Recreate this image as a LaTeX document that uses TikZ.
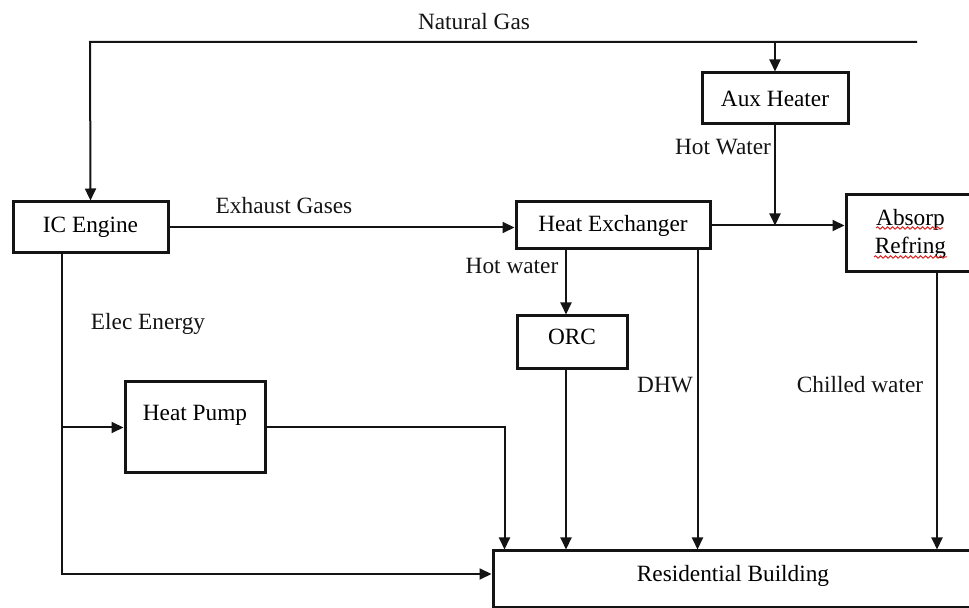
\documentclass[tikz,border=0pt]{standalone}
\usepackage{fontspec}
\setmainfont{Liberation Serif}
\usepackage{xcolor}
\usepackage{tikz}
\usetikzlibrary{arrows.meta,decorations.pathmorphing}
\definecolor{primary}{RGB}{20, 20, 20}
\definecolor{squiggle}{RGB}{215, 40, 40}

\begin{document}
\begin{tikzpicture}[x=0.5pt,y=-0.5pt,
  font=\fontsize{11.65}{14}\selectfont,
  unit/.style={draw=primary,line width=1.5pt,inner sep=0pt,align=center},
  flow/.style={primary,line width=1pt,-{Triangle[length=6pt,width=5.5pt]}},
  lbl/.style={inner sep=0pt,text=primary}]
\useasboundingbox (0,0) rectangle (969,608);
\clip (0,0) rectangle (969,608);
\node[unit,minimum width=77.5pt,minimum height=25.5pt] (ice) at (90.5,227.5) {IC Engine};
\node[unit,minimum width=73pt,minimum height=25.5pt] (aux) at (775,98.5) {Aux Heater};
\node[unit,minimum width=97pt,minimum height=23.5pt] (hx) at (613,225.5) {Heat Exchanger};
\node[unit,minimum width=64.5pt,minimum height=38.5pt] (abs) at (910.5,233.5) {Absorp\\Refring};
\node[unit,minimum width=55pt,text height=14.25pt,text depth=12.25pt] (orc) at (572,342.5) {ORC};
\node[unit,minimum width=70pt,text height=19.25pt,text depth=26.25pt] (hp) at (195,427.5) {Heat Pump};
\node[unit,minimum width=240pt,text height=15.25pt,text depth=13.25pt] (rb) at (733,579.5) {Residential Building};
% spell-check marks
\draw[squiggle,line width=0.5pt,decorate,decoration={snake,segment length=2.5pt,amplitude=0.6pt}] (876,228) -- (943,228);
\draw[squiggle,line width=0.5pt,decorate,decoration={snake,segment length=2.5pt,amplitude=0.6pt}] (874,257) -- (947,257);
% labels
\node[lbl] (ng) at (474,22) {Natural Gas};
\node[lbl] (hwa) at (723,147) {Hot Water};
\node[lbl] (exh) at (284,206) {Exhaust Gases};
\node[lbl] (hwb) at (512,266) {Hot water};
\node[lbl] (elec) at (148,324) {Elec Energy};
\node[lbl] (dhw) at (665,385) {DHW};
\node[lbl] (chw) at (860,385) {Chilled water};
% flows
\coordinate (gasE) at (917,42);
\coordinate (gasW) at (90,42);
\coordinate (tap) at (62,574);
\coordinate (orcin) at ([xshift=-3pt]orc.north);
\coordinate (orcout) at ([xshift=-3pt]orc.south);
\draw[flow] (gasE) -- (gasW) -- (ice.north);
\draw[flow] (aux.north |- gasE) -- (aux.north);
\draw[flow] (ice.east) -- (ice.east -| hx.west);
\draw[flow] (hx.east) -- (hx.east -| abs.west);
\draw[flow] (aux.south) -- (aux.south |- hx.east);
\draw[flow] (hx.south -| orcin) -- (orcin);
\draw[flow] (orcout) -- (orcout |- rb.north);
\draw[flow] ([xshift=-7pt]hx.south east) -- ([xshift=-7pt]hx.south east |- rb.north);
\draw[flow] ([xshift=13.25pt]abs.south) -- ([xshift=13.25pt]abs.south |- rb.north);
\draw[flow] (tap |- ice.south) -- (tap) -- (tap -| rb.west);
\draw[flow] (tap |- hp.west) -- (hp.west);
\draw[flow] (hp.east) -| ([xshift=6.5pt]rb.north west);
\end{tikzpicture}
\end{document}
